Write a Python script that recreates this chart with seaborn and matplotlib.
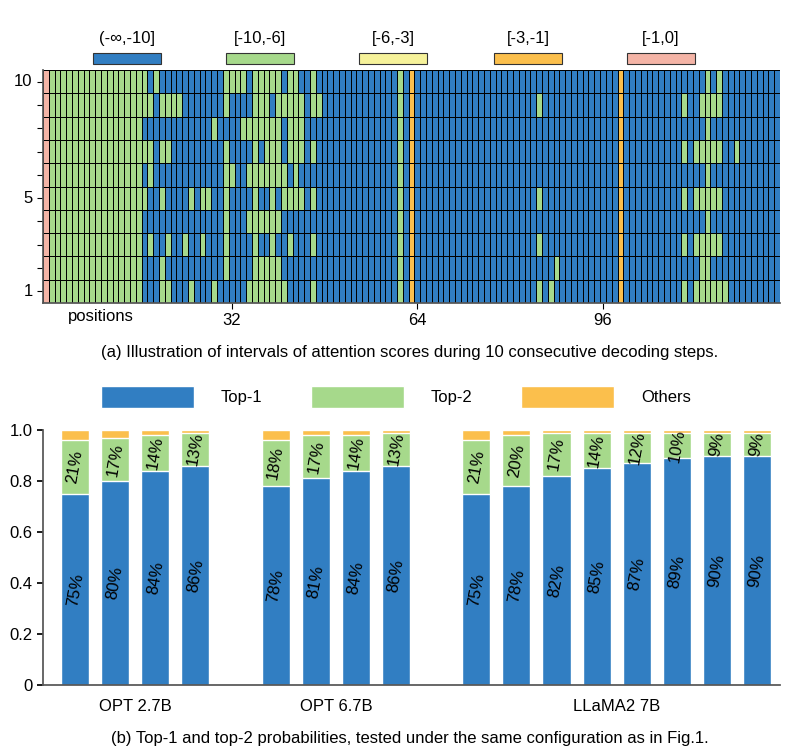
import numpy as np
import pandas as pd
import matplotlib.pyplot as plt
import seaborn as sns
from matplotlib.colors import ListedColormap
from matplotlib.patches import Rectangle

# ---- data: (a) interval of attention score per decoding step / position ----
# codes: B=(-inf,-10] G=[-10,-6] Y=[-6,-3] O=[-3,-1] P=[-1,0]
interval_labels = ["(-∞,-10]", "[-10,-6]", "[-6,-3]", "[-3,-1]", "[-1,0]"]
steps = [10, 9, 8, 7, 6, 5, 4, 3, 2, 1]
n_positions = 127
head_cols = "PGGGGGGGGGGGGGGGG"          # positions 0-16, same in every step
mixed_cols = {                              # positions 17-47
    10: "GBGBBBBBBBBBBBGGGGBGGGGGBG" + "GBBGB",
    9:  "GGBGGGGBBBBBBBGBBBBGGGBGGG" + "GGBGG",
    8:  "BBBBBBBBBBBBGBBBBGGGGGGGBG" + "GGBBB",
    7:  "GGBGGBBBBBBBBBGBBBBGBGGGBG" + "GGBGB",
    6:  "BGBBBBBBBBBBBBGGBBGGGGGGGB" + "GBBBB",
    5:  "GBBGBBBBGBGGBBGBBBBGBBGBGG" + "GGBGB",
    4:  "BBBBBBBBBBBBBBGBBBGGGGGGBB" + "BBBBB",
    3:  "BGBBGBBGBBGBBBGBBBBGBBGBBG" + "BBBGB",
    2:  "BBBGBBBBBBBBBBGBBBBGGGGGBB" + "BBBBB",
    1:  "BBBGGBBBGBBBGBBBBBGGGGGGGB" + "BBBGB",
}
green_cols_all = [61]
orange_cols_all = [63, 99]
green_cols_tail = {
    10: [114, 116],
    9: [85, 110, 113, 114, 115, 116],
    8: [114],
    7: [110, 112, 113, 114, 115, 116, 119],
    6: [114],
    5: [85, 110, 112, 113, 114, 115, 116],
    4: [114],
    3: [85, 110, 112, 113, 114, 115, 116],
    2: [88, 113, 114],
    1: [85, 87, 110, 112, 113, 114, 115, 116, 117],
}

# ---- data: (b) top-1 / top-2 probabilities ----
groups = ["OPT 2.7B", "OPT 6.7B", "LLaMA2 7B"]
bar_slots = [0, 1, 2, 3, 5, 6, 7, 8, 10, 11, 12, 13, 14, 15, 16, 17]
top1 = [0.75, 0.80, 0.84, 0.86, 0.78, 0.81, 0.84, 0.86,
        0.75, 0.78, 0.82, 0.85, 0.87, 0.89, 0.90, 0.90]
top2 = [0.21, 0.17, 0.14, 0.13, 0.18, 0.17, 0.14, 0.13,
        0.21, 0.20, 0.17, 0.14, 0.12, 0.10, 0.09, 0.09]

code = {"B": 0, "G": 1, "Y": 2, "O": 3, "P": 4}
colors = ["#317ec2", "#a6d98b", "#f6f29a", "#fbbf4c", "#f4b4a6"]

grid = np.zeros((len(steps), n_positions), dtype=int)
for r, s in enumerate(steps):
    for c, ch in enumerate(head_cols + mixed_cols[s]):
        grid[r, c] = code[ch]
    for c in green_cols_all + green_cols_tail[s]:
        grid[r, c] = 1
    for c in orange_cols_all:
        grid[r, c] = 3

sns.set_theme(style="white")
plt.rcParams['font.family'] = ['Liberation Sans', 'DejaVu Sans']
plt.rcParams['text.color'] = 'black'
plt.rcParams['xtick.color'] = 'black'
plt.rcParams['ytick.color'] = 'black'
fig = plt.figure(figsize=(7.99, 7.55), dpi=100)
W, H = 799, 755

def box(x0, x1, ytop, ybot):
    return [x0 / W, 1 - ybot / H, (x1 - x0) / W, (ybot - ytop) / H]

# ---- (a) ----
ax1 = fig.add_axes(box(43, 780, 70, 303))
sns.heatmap(grid, ax=ax1, cmap=ListedColormap(colors), vmin=-0.5, vmax=4.5,
            cbar=False, linewidths=0.45, linecolor="black")
ax1.set_yticks([r + 0.5 for r in range(10)])
ax1.set_yticklabels(["10", "", "", "", "", "5", "", "", "", "1"], rotation=0, fontsize=12)
ax1.set_xticks([32.5, 64.5, 96.5])
ax1.set_xticklabels(["32", "64", "96"], rotation=0, fontsize=12)
ax1.tick_params(axis="both", length=4, width=0.8, colors="black", left=True, bottom=True)
ax1.text(10, 10.25, "positions", ha="center", va="top", fontsize=12)
for sp in ["left", "bottom"]:
    ax1.spines[sp].set_visible(True)
    ax1.spines[sp].set_color("#555555")

centers = [127, 260, 393, 528, 661]
for cx, lab, col in zip(centers, interval_labels, colors):
    fig.patches.append(Rectangle(((cx - 34) / W, 1 - 64 / H), 68 / W, 11 / H,
                                 facecolor=col, edgecolor="#333333", lw=0.8,
                                 transform=fig.transFigure))
    fig.text(cx / W, 1 - 38 / H, lab, ha="center", va="center", fontsize=12)
fig.text(410 / W, 1 - 352 / H,
         "(a) Illustration of intervals of attention scores during 10 consecutive decoding steps.",
         ha="center", va="center", fontsize=12)

# ---- (b) ----
df = pd.DataFrame({"slot": bar_slots, "top1": top1, "top2": top2})
df["top12"] = df["top1"] + df["top2"]
df["total"] = 1.0
ax2 = fig.add_axes(box(43, 780, 430, 685))
sns.barplot(data=df, x="slot", y="total", native_scale=True, color="#fbbf4c",
            width=0.7, ax=ax2, saturation=1, label="Others")
sns.barplot(data=df, x="slot", y="top12", native_scale=True, color="#a6d98b",
            width=0.7, ax=ax2, saturation=1, label="Top-2")
sns.barplot(data=df, x="slot", y="top1", native_scale=True, color="#317ec2",
            width=0.7, ax=ax2, saturation=1, label="Top-1")
for _, row in df.iterrows():
    ax2.text(row.slot, row.top1 / 2, f"{round(row.top1 * 100)}%", rotation=80,
             ha="center", va="center", fontsize=12)
    ax2.text(row.slot, row.top1 + row.top2 / 2, f"{round(row.top2 * 100)}%", rotation=80,
             ha="center", va="center", fontsize=12)
ax2.set_xlim(-0.8, 17.57)
ax2.set_ylim(0, 1.0)
ax2.set_yticks([0, 0.2, 0.4, 0.6, 0.8, 1.0])
ax2.set_yticklabels(["0", "0.2", "0.4", "0.6", "0.8", "1.0"], fontsize=12)
ax2.set_xticks([1.5, 6.5, 13.5])
ax2.set_xticklabels(groups, fontsize=12)
ax2.set_xlabel("")
ax2.set_ylabel("")
ax2.tick_params(axis="y", length=4, left=True, colors="black")
ax2.tick_params(axis="x", length=0, pad=10)
for sp in ["top", "right"]:
    ax2.spines[sp].set_visible(False)
for sp in ["left", "bottom"]:
    ax2.spines[sp].set_color("#555555")
h, l = ax2.get_legend_handles_labels()
order = [l.index("Top-1"), l.index("Top-2"), l.index("Others")]
ax2.legend([h[i] for i in order], [l[i] for i in order], ncol=3, frameon=False,
           loc="center", bbox_to_anchor=(0.479, 1.13), fontsize=12,
           handlelength=5.6, handleheight=1.6, columnspacing=2.9, handletextpad=1.6)
fig.text(410 / W, 1 - 738 / H,
         "(b) Top-1 and top-2 probabilities, tested under the same configuration as in Fig.1.",
         ha="center", va="center", fontsize=12)

fig.savefig("out.png", dpi=100)
